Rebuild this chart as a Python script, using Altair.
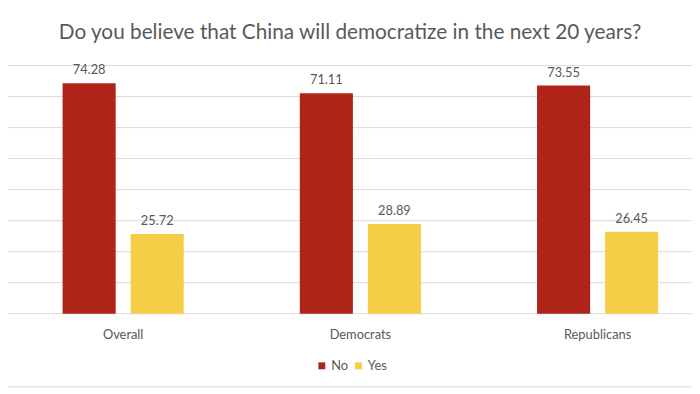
import altair as alt
import pandas as pd

groups = ["Overall", "Democrats", "Republicans"]
answers = ["No", "Yes"]
no_values = [74.28, 71.11, 73.55]
yes_values = [25.72, 28.89, 26.45]
colors = ["#AF2318", "#F6CD46"]
grid_values = [0, 10, 20, 30, 40, 50, 60, 70, 80]
title_text = "Do you believe that China will democratize in the next 20 years?"

rows = []
for g, n, y in zip(groups, no_values, yes_values):
    rows.append({"group": g, "answer": "No", "value": n})
    rows.append({"group": g, "answer": "Yes", "value": y})
df = pd.DataFrame(rows)
grid_df = pd.DataFrame({"g": grid_values})

FONT = "Lato"
GRAY = "#595959"

x_scale = alt.Scale(range=[-3.5, 716.5], paddingInner=0, paddingOuter=0)
x_axis = alt.Axis(labelAngle=0, ticks=False, domain=False, labelFont=FONT,
                  labelFontSize=13, labelColor=GRAY, labelPadding=15, grid=False)
xo_scale = alt.Scale(paddingInner=0.22, paddingOuter=0.853)
y_scale = alt.Scale(domain=[0, 80], nice=False)

grid = alt.Chart(grid_df).mark_rule(color="#D9D9D9", strokeWidth=1).encode(
    y=alt.Y("g:Q", scale=y_scale, axis=None),
    x=alt.value(0), x2=alt.value(692),
)

base = alt.Chart(df)

bars = base.mark_bar().encode(
    x=alt.X("group:N", sort=groups, title=None, scale=x_scale, axis=x_axis),
    xOffset=alt.XOffset("answer:N", sort=answers, scale=xo_scale),
    y=alt.Y("value:Q", title=None, scale=y_scale, axis=None),
    color=alt.Color("answer:N", sort=answers,
                    scale=alt.Scale(domain=answers, range=colors),
                    legend=alt.Legend(title=None, orient="none", legendX=311, legendY=297,
                                      direction="horizontal", symbolType="square",
                                      symbolSize=49, symbolStrokeWidth=0, symbolOpacity=1,
                                      labelFont=FONT, labelFontSize=13, labelColor=GRAY,
                                      labelOffset=3, columnPadding=3)),
)

labels = base.mark_text(baseline="alphabetic", dy=-9, font=FONT, fontSize=13, color=GRAY).encode(
    x=alt.X("group:N", sort=groups, title=None, scale=x_scale, axis=x_axis),
    xOffset=alt.XOffset("answer:N", sort=answers, scale=xo_scale),
    y=alt.Y("value:Q", title=None, scale=y_scale, axis=None),
    text=alt.Text("value:Q", format=".2f"),
)

frame = alt.Chart(pd.DataFrame({"k": [0]})).mark_rule(color="#D9D9D9", strokeWidth=1).encode(
    x=alt.value(-8), x2=alt.value(700), y=alt.value(325)
)

chart = alt.layer(grid, bars, labels, frame).properties(
    width=692, height=251,
    title=alt.TitleParams(title_text, font=FONT, fontSize=21, fontWeight="normal",
                          color=GRAY, anchor="middle", offset=22, dx=0),
    autosize=alt.AutoSizeParams(type="none"),
    padding={"left": 0, "right": 0, "top": 56, "bottom": 79},
).configure_view(stroke=None)

chart.save("out.html", embed_options={"renderer": "svg", "actions": False})
